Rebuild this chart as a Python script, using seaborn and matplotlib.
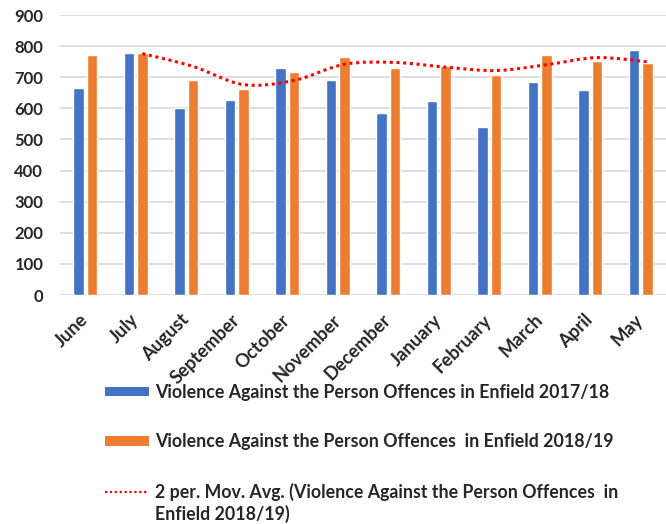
import numpy as np
import pandas as pd
import matplotlib
matplotlib.use("Agg")
import matplotlib.pyplot as plt
import matplotlib.transforms as mtransforms
import seaborn as sns
from matplotlib.path import Path
from matplotlib.patches import PathPatch, Patch
from matplotlib.lines import Line2D

# ---------------- data ----------------
months = ["June", "July", "August", "September", "October", "November",
          "December", "January", "February", "March", "April", "May"]
vap_2017_18 = [664, 779, 602, 627, 729, 691, 585, 623, 541, 684, 659, 786]
vap_2018_19 = [773, 779, 691, 662, 717, 766, 729, 736, 707, 773, 753, 746]
series_names = ["Violence Against the Person Offences in Enfield 2017/18",
                "Violence Against the Person Offences  in Enfield 2018/19"]
trend_label_lines = ["2 per. Mov. Avg. (Violence Against the Person Offences  in",
                     "Enfield 2018/19)"]
y_ticks = [0, 100, 200, 300, 400, 500, 600, 700, 800, 900]

# ---------------- style ----------------
sns.set_theme(style="white")
plt.rcParams["font.family"] = ["Lato", "DejaVu Sans"]

BLUE = "#4472C4"
ORANGE = "#ED7D31"
GRID = "#D9D9D9"

df = pd.DataFrame({
    "Month": months * 2,
    "Value": vap_2017_18 + vap_2018_19,
    "Series": [series_names[0]] * len(months) + [series_names[1]] * len(months),
})

fig = plt.figure(figsize=(6.66, 5.24), dpi=100)
ax = fig.add_axes([60 / 666, 1 - 295 / 524, 606 / 666, 280 / 524])

sns.barplot(data=df, x="Month", y="Value", hue="Series", order=months,
            hue_order=series_names, palette=[BLUE, ORANGE],
            width=0.52, gap=0.2, legend=False, ax=ax, saturation=1)

ax.set_ylim(0, 900)
ax.set_xlim(-0.5, len(months) - 0.5)
ax.set_yticks(y_ticks)
ax.set_axisbelow(True)
ax.yaxis.grid(True, color=GRID, linewidth=1.2)
ax.xaxis.grid(False)
for s in ax.spines.values():
    s.set_visible(False)
ax.set_xlabel("")
ax.set_ylabel("")
ax.tick_params(axis="y", length=0, pad=12, labelsize=12)
ax.tick_params(axis="x", length=0, pad=16, labelsize=13.2)
for lab in ax.get_yticklabels():
    lab.set_fontweight("bold")
for lab in ax.get_xticklabels():
    lab.set_fontweight("bold")
    lab.set_rotation(45)
    lab.set_ha("right")
    lab.set_va("center")
    lab.set_rotation_mode("anchor")

# ---------------- 2-period moving average (smoothed) ----------------
mov = pd.Series(vap_2018_19).rolling(2).mean().to_numpy()
orange_bars = ax.patches[len(months):2 * len(months)]
xs_all = np.array([b.get_x() + b.get_width() / 2 for b in orange_bars])
xs = xs_all[1:]
ys = mov[1:]
pts = np.column_stack([xs, ys])
verts = [pts[0]]
codes = [Path.MOVETO]
n = len(pts)
for i in range(n - 1):
    p0 = pts[i - 1] if i > 0 else pts[i]
    p1 = pts[i]
    p2 = pts[i + 1]
    p3 = pts[i + 2] if i + 2 < n else pts[i + 1]
    c1 = p1 + (p2 - p0) / 6.0
    c2 = p2 - (p3 - p1) / 6.0
    verts += [c1, c2, p2]
    codes += [Path.CURVE4] * 3
path = Path(verts, codes)
ax.add_patch(PathPatch(path, fill=False, edgecolor="#FF0000",
                       linewidth=2.2, linestyle=(0, (1, 1.2)), zorder=5))

# ---------------- legend ----------------
leg_font = {"family": ["Lato", "DejaVu Sans"], "weight": "bold", "size": 12.8}
handles = [Patch(facecolor=BLUE, edgecolor="none"),
           Patch(facecolor=ORANGE, edgecolor="none"),
           Line2D([], [], color="#FF0000", linewidth=1.6, linestyle=(0, (1, 1.2)))]
labels = series_names + [trend_label_lines[0]]
leg = fig.legend(handles, labels, loc="upper left",
                 bbox_to_anchor=(105 / 666, 1 - 384 / 524),
                 frameon=False, borderpad=0, borderaxespad=0,
                 handlelength=2.45, handleheight=0.45, handletextpad=0.35,
                 labelspacing=1.82, prop=leg_font)

fig.canvas.draw()
t3 = leg.get_texts()[2]
bb = t3.get_window_extent()
fig.text(bb.x0, bb.y0 - 22, trend_label_lines[1],
         transform=mtransforms.IdentityTransform(),
         ha="left", va="bottom", fontproperties=t3.get_fontproperties(),
         color=t3.get_color())

fig.savefig("out.png", dpi=100)
